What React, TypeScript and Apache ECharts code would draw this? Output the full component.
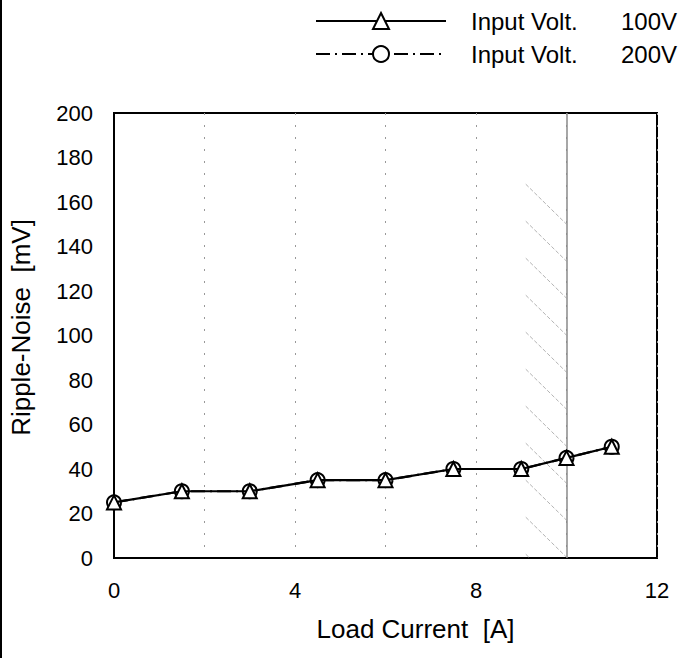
import React, { useEffect, useRef } from 'react';
import * as echarts from 'echarts';

const loadCurrent = [0, 1.5, 3, 4.5, 6, 7.5, 9, 10, 11];
const noise100V = [25, 30, 30, 35, 35, 40, 40, 45, 50];
const noise200V = [25, 30, 30, 35, 35, 40, 40, 45, 50];
const seriesNames = ['100V', '200V'];
const xTickLabels = [0, 4, 8, 12];
const ratedCurrent = 10;
const deratingStart = 9.1;
const hatchTop = 168;

const FONT = "'Liberation Sans', Arial, Helvetica, sans-serif";

export default function App() {
  const ref = useRef<HTMLDivElement>(null);

  useEffect(() => {
    if (!ref.current) return;
    const chart = echarts.init(ref.current, null, { renderer: 'svg' });
    const option: any = {
      animation: false,
      backgroundColor: '#fff',
      textStyle: { fontFamily: FONT, color: '#000' },
      grid: {
        left: 110,
        right: 21,
        top: 113,
        bottom: 100,
        show: true,
        borderColor: '#000',
        borderWidth: 2,
        backgroundColor: 'transparent',
      },
      graphic: [
        {
          type: 'line',
          shape: { x1: 1, y1: 0, x2: 1, y2: 658 },
          style: { stroke: '#000', lineWidth: 2 },
        },
      ],
      legend: {
        left: 310,
        top: 4,
        orient: 'vertical',
        itemWidth: 130,
        itemHeight: 20,
        itemGap: 9,
        data: seriesNames,
        formatter: (n: string) => `{a|Input Volt.}{b|${n}}`,
        textStyle: {
          fontSize: 24,
          color: '#000',
          fontFamily: FONT,
          rich: {
            a: { fontSize: 24, color: '#000', fontFamily: FONT, width: 150, padding: [0, 0, 0, 20] },
            b: { fontSize: 24, color: '#000', fontFamily: FONT },
          },
        },
      },
      xAxis: {
        type: 'value',
        min: 0,
        max: 12,
        interval: 2,
        name: 'Load Current  [A]',
        nameLocation: 'middle',
        nameGap: 58,
        nameTextStyle: { fontSize: 26, color: '#000', fontFamily: FONT, padding: [0, 0, 0, 60] },
        axisLine: { show: true, lineStyle: { color: '#000', width: 2 } },
        axisTick: { show: false },
        axisLabel: {
          fontSize: 22,
          color: '#000',
          fontFamily: FONT,
          margin: 21,
          formatter: (v: number) => (xTickLabels.includes(v) ? String(v) : ''),
        },
        splitLine: { show: true, lineStyle: { color: '#999', type: [2, 10], width: 1 } },
      },
      yAxis: {
        type: 'value',
        min: 0,
        max: 200,
        interval: 20,
        name: 'Ripple-Noise  [mV]',
        nameLocation: 'middle',
        nameRotate: 90,
        nameGap: 80,
        nameTextStyle: { fontSize: 26, color: '#000', fontFamily: FONT, padding: [0, 0, 0, 16] },
        axisLine: { show: true, lineStyle: { color: '#000', width: 2 } },
        axisTick: { show: false },
        axisLabel: { fontSize: 22, color: '#000', fontFamily: FONT, margin: 21 },
        splitLine: { show: false },
      },
      series: [
        {
          type: 'custom',
          silent: true,
          z: 1,
          data: [[deratingStart, ratedCurrent, 0, hatchTop]],
          encode: { x: [0, 1], y: [2, 3] },
          renderItem: (params: any, api: any) => {
            const tl = api.coord([api.value(0), api.value(3)]);
            const br = api.coord([api.value(1), api.value(2)]);
            const children: any[] = [];
            const step = 37;
            const drop = 40;
            for (let y = tl[1]; y < br[1]; y += step) {
              const y2 = Math.min(y + drop, br[1]);
              const x2 = tl[0] + ((br[0] - tl[0]) * (y2 - y)) / drop;
              children.push({
                type: 'line',
                shape: { x1: tl[0], y1: y, x2, y2 },
                style: { stroke: '#b4b4b4', lineWidth: 1, lineDash: [4, 2] },
              });
            }
            return { type: 'group', children };
          },
        },
        {
          name: seriesNames[0],
          type: 'line',
          z: 4,
          data: loadCurrent.map((x, i) => [x, noise100V[i]]),
          symbol: 'emptyTriangle',
          symbolSize: 14,
          lineStyle: { color: '#000', width: 2.2 },
          itemStyle: { color: '#000', borderWidth: 3 },
          markLine: {
            silent: true,
            symbol: 'none',
            label: { show: false },
            lineStyle: { color: '#8a8a8a', type: 'solid', width: 1.5 },
            data: [{ xAxis: ratedCurrent }],
            z: 2,
          },
        },
        {
          name: seriesNames[1],
          type: 'line',
          z: 3,
          data: loadCurrent.map((x, i) => [x, noise200V[i]]),
          symbol: 'emptyCircle',
          symbolSize: 14,
          lineStyle: { color: '#000', width: 2.2, type: [14, 5, 2, 5] },
          itemStyle: { color: '#000', borderWidth: 3 },
        },
      ],
    };
    chart.setOption(option);
    return () => chart.dispose();
  }, []);

  return (
    <div
      ref={ref}
      style={{ position: 'fixed', left: 0, top: 0, width: 678, height: 658, background: '#fff' }}
    />
  );
}
